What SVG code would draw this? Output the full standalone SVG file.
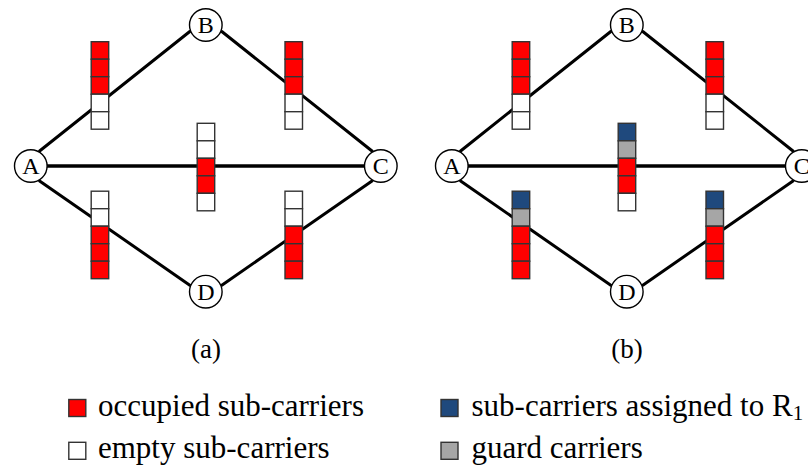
<svg xmlns="http://www.w3.org/2000/svg" width="808" height="465" viewBox="0 0 808 465">
<style>
.edge{stroke:#000;stroke-width:3;fill:none;stroke-linecap:round}
.edgeh{stroke:#000;stroke-width:3.6;fill:none}
.node{fill:#fff;stroke:#000;stroke-width:1.4}
text{font-family:'Liberation Serif','Times New Roman',serif}
.lbl{font-size:24px;text-anchor:middle;fill:#000}
.cap{font-size:27px;text-anchor:middle;fill:#000}
.leg{font-size:31px;fill:#000}
.c{stroke:#333;stroke-width:1.4}
.r{fill:#ff0000}
.w{fill:#ffffff}
.b{fill:#1f497d}
.g{fill:#a6a6a6}
</style>
<defs>
<rect id="cell" width="17.5" height="17.5"/>
</defs>

<!-- Panel (a) -->
<g id="panel-a">
  <g id="connectors-a">
    <line class="edgeh" x1="30.8" y1="166" x2="380.8" y2="166"/>
    <line class="edge" x1="39.6" y1="151" x2="189.8" y2="31.5"/>
    <line class="edge" x1="221.8" y1="31.5" x2="372" y2="151"/>
    <line class="edge" x1="39.6" y1="181" x2="189.8" y2="285.2"/>
    <line class="edge" x1="221.8" y1="285.2" x2="372" y2="181"/>
  </g>
  <g id="a-bar-AB" class="c">
    <use href="#cell" class="r" x="91.2" y="41.7"/>
    <use href="#cell" class="r" x="91.2" y="59.2"/>
    <use href="#cell" class="r" x="91.2" y="76.7"/>
    <use href="#cell" class="w" x="91.2" y="94.2"/>
    <use href="#cell" class="w" x="91.2" y="111.7"/>
  </g>
  <g id="a-bar-BC" class="c">
    <use href="#cell" class="r" x="285" y="41.7"/>
    <use href="#cell" class="r" x="285" y="59.2"/>
    <use href="#cell" class="r" x="285" y="76.7"/>
    <use href="#cell" class="w" x="285" y="94.2"/>
    <use href="#cell" class="w" x="285" y="111.7"/>
  </g>
  <g id="a-bar-AC" class="c">
    <use href="#cell" class="w" x="197.2" y="123.3"/>
    <use href="#cell" class="w" x="197.2" y="140.8"/>
    <use href="#cell" class="r" x="197.2" y="158.3"/>
    <use href="#cell" class="r" x="197.2" y="175.8"/>
    <use href="#cell" class="w" x="197.2" y="193.3"/>
  </g>
  <g id="a-bar-AD" class="c">
    <use href="#cell" class="w" x="91.2" y="191.2"/>
    <use href="#cell" class="w" x="91.2" y="208.7"/>
    <use href="#cell" class="r" x="91.2" y="226.2"/>
    <use href="#cell" class="r" x="91.2" y="243.7"/>
    <use href="#cell" class="r" x="91.2" y="261.2"/>
  </g>
  <g id="a-bar-DC" class="c">
    <use href="#cell" class="w" x="285" y="191.2"/>
    <use href="#cell" class="w" x="285" y="208.7"/>
    <use href="#cell" class="r" x="285" y="226.2"/>
    <use href="#cell" class="r" x="285" y="243.7"/>
    <use href="#cell" class="r" x="285" y="261.2"/>
  </g>
  <g id="a-node-A"><circle class="node" cx="30.8" cy="166" r="16.3"/><text class="lbl" x="30.8" y="174.3">A</text></g>
  <g id="a-node-B"><circle class="node" cx="205.8" cy="25" r="16.3"/><text class="lbl" x="205.8" y="33.3">B</text></g>
  <g id="a-node-C"><circle class="node" cx="380.8" cy="166" r="16.3"/><text class="lbl" x="380.8" y="174.3">C</text></g>
  <g id="a-node-D"><circle class="node" cx="205.8" cy="291.7" r="16.3"/><text class="lbl" x="205.8" y="300">D</text></g>
  <text class="cap" x="206" y="358">(a)</text>
</g>

<!-- Panel (b) -->
<g id="panel-b" transform="translate(421,0)">
  <g id="connectors-b">
    <line class="edgeh" x1="30.8" y1="166" x2="380.8" y2="166"/>
    <line class="edge" x1="39.6" y1="151" x2="189.8" y2="31.5"/>
    <line class="edge" x1="221.8" y1="31.5" x2="372" y2="151"/>
    <line class="edge" x1="39.6" y1="181" x2="189.8" y2="285.2"/>
    <line class="edge" x1="221.8" y1="285.2" x2="372" y2="181"/>
  </g>
  <g id="b-bar-AB" class="c">
    <use href="#cell" class="r" x="91.2" y="41.7"/>
    <use href="#cell" class="r" x="91.2" y="59.2"/>
    <use href="#cell" class="r" x="91.2" y="76.7"/>
    <use href="#cell" class="w" x="91.2" y="94.2"/>
    <use href="#cell" class="w" x="91.2" y="111.7"/>
  </g>
  <g id="b-bar-BC" class="c">
    <use href="#cell" class="r" x="285" y="41.7"/>
    <use href="#cell" class="r" x="285" y="59.2"/>
    <use href="#cell" class="r" x="285" y="76.7"/>
    <use href="#cell" class="w" x="285" y="94.2"/>
    <use href="#cell" class="w" x="285" y="111.7"/>
  </g>
  <g id="b-bar-AC" class="c">
    <use href="#cell" class="b" x="197.2" y="123.3"/>
    <use href="#cell" class="g" x="197.2" y="140.8"/>
    <use href="#cell" class="r" x="197.2" y="158.3"/>
    <use href="#cell" class="r" x="197.2" y="175.8"/>
    <use href="#cell" class="w" x="197.2" y="193.3"/>
  </g>
  <g id="b-bar-AD" class="c">
    <use href="#cell" class="b" x="91.2" y="191.2"/>
    <use href="#cell" class="g" x="91.2" y="208.7"/>
    <use href="#cell" class="r" x="91.2" y="226.2"/>
    <use href="#cell" class="r" x="91.2" y="243.7"/>
    <use href="#cell" class="r" x="91.2" y="261.2"/>
  </g>
  <g id="b-bar-DC" class="c">
    <use href="#cell" class="b" x="285" y="191.2"/>
    <use href="#cell" class="g" x="285" y="208.7"/>
    <use href="#cell" class="r" x="285" y="226.2"/>
    <use href="#cell" class="r" x="285" y="243.7"/>
    <use href="#cell" class="r" x="285" y="261.2"/>
  </g>
  <g id="b-node-A"><circle class="node" cx="30.8" cy="166" r="16.3"/><text class="lbl" x="30.8" y="174.3">A</text></g>
  <g id="b-node-B"><circle class="node" cx="205.8" cy="25" r="16.3"/><text class="lbl" x="205.8" y="33.3">B</text></g>
  <g id="b-node-C"><circle class="node" cx="380.8" cy="166" r="16.3"/><text class="lbl" x="380.8" y="174.3">C</text></g>
  <g id="b-node-D"><circle class="node" cx="205.8" cy="291.7" r="16.3"/><text class="lbl" x="205.8" y="300">D</text></g>
  <text class="cap" x="206" y="358">(b)</text>
</g>

<!-- Legend -->
<g id="legend">
  <g id="legend-occupied"><rect class="c r" x="68.8" y="399.5" width="17" height="17"/><text class="leg" x="98" y="416">occupied sub-carriers</text></g>
  <g id="legend-empty"><rect class="c w" x="68.8" y="442.3" width="17" height="17"/><text class="leg" x="98" y="458">empty sub-carriers</text></g>
  <g id="legend-assigned"><rect class="c b" x="441" y="399.5" width="17" height="17"/><text class="leg" x="471.5" y="416">sub-carriers assigned to R<tspan font-size="21" dy="4">1</tspan></text></g>
  <g id="legend-guard"><rect class="c g" x="441" y="442.3" width="17" height="17"/><text class="leg" x="471.5" y="458">guard carriers</text></g>
</g>
</svg>
